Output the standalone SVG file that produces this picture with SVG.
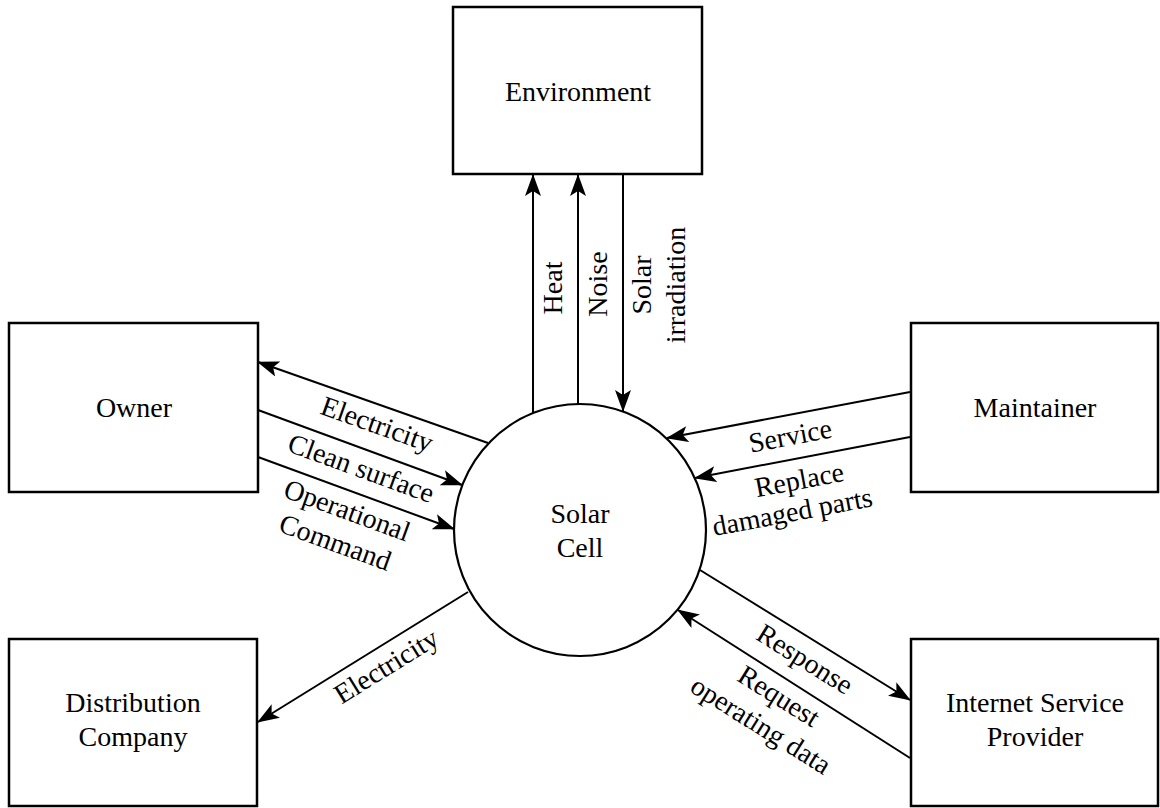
<svg xmlns="http://www.w3.org/2000/svg" width="1160" height="808" viewBox="0 0 1160 808">
  <defs>
    <style>
      .box { fill: #ffffff; stroke: #000000; stroke-width: 2.5; }
      .proc { fill: #ffffff; stroke: #000000; stroke-width: 2.2; }
      .flow { fill: none; stroke: #000000; stroke-width: 2; marker-end: url(#arrow); }
      text { font-family: "Liberation Serif", "Times New Roman", serif; font-size: 28px; fill: #000000; text-anchor: middle; }
    </style>
    <marker id="arrow" markerUnits="userSpaceOnUse" viewBox="0 0 22 16" refX="21" refY="8" markerWidth="22" markerHeight="16" orient="auto">
      <path d="M0,0 L22,8 L0,16 L5,8 Z" fill="#000000"/>
    </marker>
  </defs>
  <rect width="1160" height="808" fill="#ffffff"/>

  <!-- external entities -->
  <g id="environment" font-family="Liberation Serif, serif">
    <rect class="box" x="453" y="7" width="249" height="167"/>
    <text x="578" y="101">Environment</text>
  </g>
  <g id="owner" font-family="Liberation Serif, serif">
    <rect class="box" x="9" y="323" width="249" height="169"/>
    <text x="134" y="417">Owner</text>
  </g>
  <g id="maintainer" font-family="Liberation Serif, serif">
    <rect class="box" x="911" y="323" width="247" height="169"/>
    <text x="1035" y="417">Maintainer</text>
  </g>
  <g id="distribution-company" font-family="Liberation Serif, serif">
    <rect class="box" x="9" y="639" width="248" height="167"/>
    <text x="133" y="712">Distribution</text>
    <text x="133" y="746">Company</text>
  </g>
  <g id="internet-service-provider" font-family="Liberation Serif, serif">
    <rect class="box" x="911" y="639" width="247" height="167"/>
    <text x="1035" y="712">Internet Service</text>
    <text x="1035" y="746">Provider</text>
  </g>

  <!-- central process -->
  <g id="solar-cell" font-family="Liberation Serif, serif">
    <circle class="proc" cx="580" cy="530" r="126"/>
    <text x="580" y="523">Solar</text>
    <text x="580" y="557">Cell</text>
  </g>

  <!-- data flows -->
  <g id="connectors">
    <path class="flow" d="M533,413 L533,175"/>
    <path class="flow" d="M578,404 L578,175"/>
    <path class="flow" d="M623,175 L623,411"/>
    <path class="flow" d="M488,443 L258,362"/>
    <path class="flow" d="M258,410 L462,485"/>
    <path class="flow" d="M258,457 L454,529"/>
    <path class="flow" d="M910,392 L667,438"/>
    <path class="flow" d="M910,437 L695,478"/>
    <path class="flow" d="M700,570 L910,700"/>
    <path class="flow" d="M910,758 L678,610"/>
    <path class="flow" d="M468,592 L258,722"/>
  </g>

  <!-- flow labels -->
  <g id="labels" font-family="Liberation Serif, serif">
    <text transform="translate(562,288) rotate(-90)">Heat</text>
    <text transform="translate(607,284) rotate(-90)">Noise</text>
    <text transform="translate(651,285) rotate(-90)">Solar</text>
    <text transform="translate(685,285) rotate(-90)">irradiation</text>

    <text transform="translate(374,433) rotate(19.5)">Electricity</text>
    <text transform="translate(358,477) rotate(20)">Clean surface</text>
    <text transform="translate(344,519) rotate(20)">Operational</text>
    <text transform="translate(332,551) rotate(20)">Command</text>

    <text transform="translate(792,445) rotate(-10.7)">Service</text>
    <text transform="translate(801,489) rotate(-10.7)">Replace</text>
    <text transform="translate(794,521) rotate(-10.7)" font-size="31">damaged parts</text>

    <text transform="translate(800,667) rotate(32)">Response</text>
    <text transform="translate(774,704) rotate(32)">Request</text>
    <text transform="translate(756,733) rotate(32)">operating data</text>

    <text transform="translate(391,674) rotate(-31.8)">Electricity</text>
  </g>
</svg>
